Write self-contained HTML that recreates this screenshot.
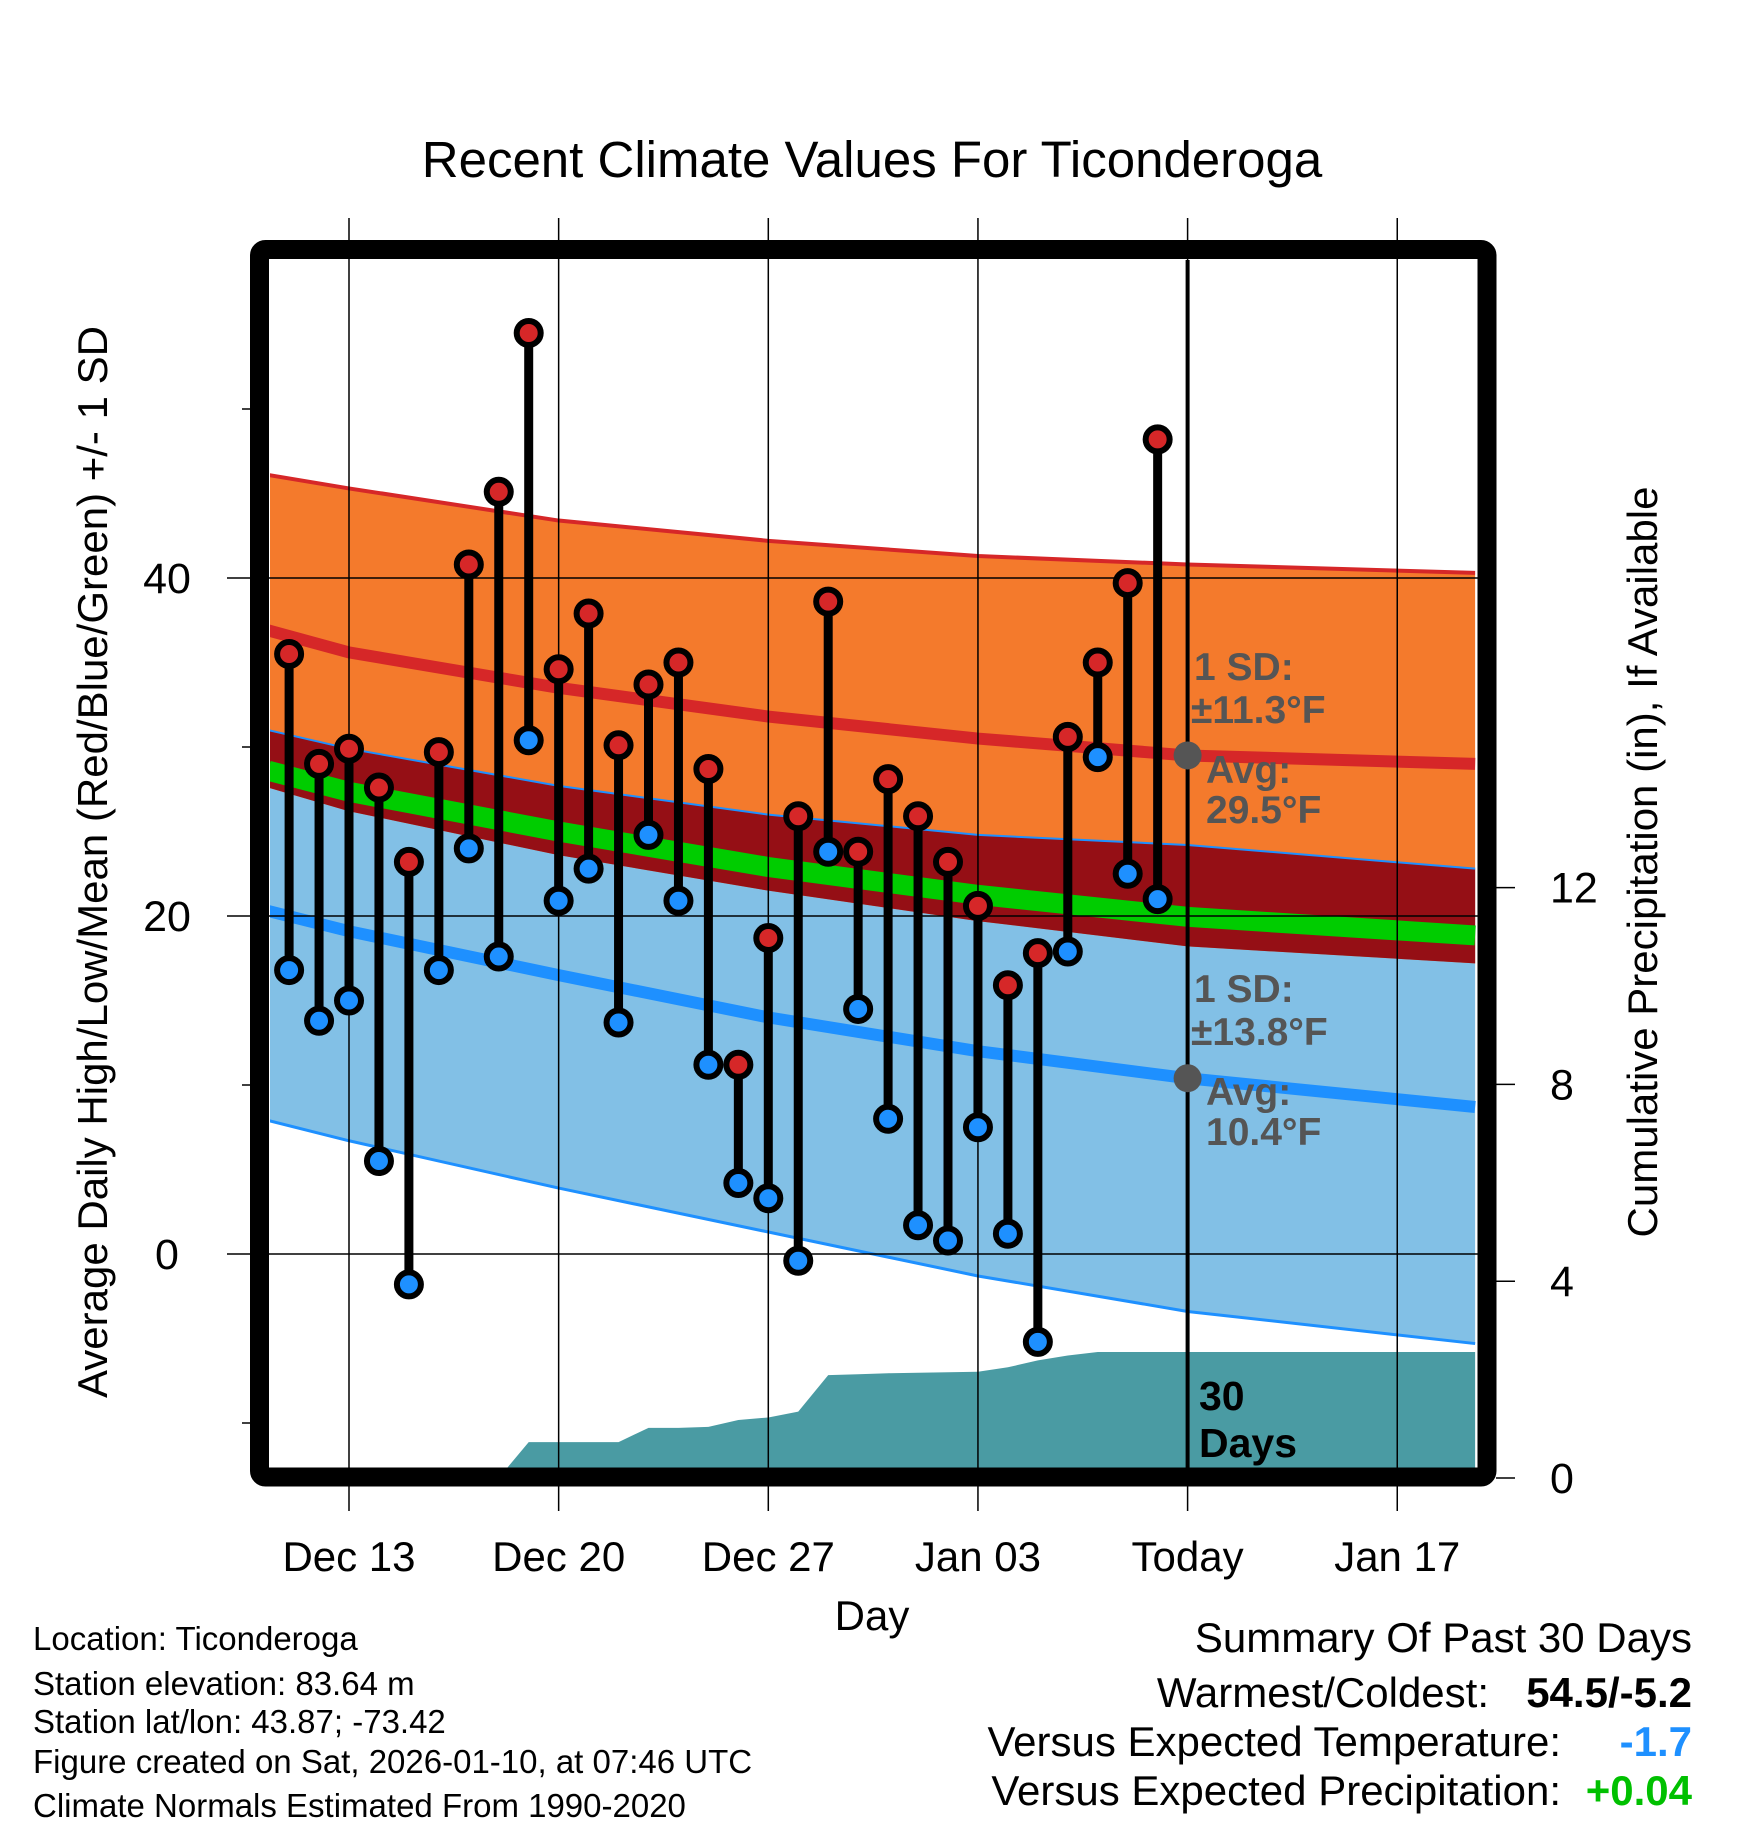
<!DOCTYPE html>
<html><head><meta charset="utf-8"><style>
html,body{margin:0;padding:0;background:#fff;}
svg{display:block;font-family:"Liberation Sans",sans-serif;}
</style></head><body>
<svg id="chart" width="1748" height="1828" viewBox="0 0 1748 1828" xmlns="http://www.w3.org/2000/svg">
<defs><clipPath id="plotclip"><rect x="270" y="260" width="1208" height="1208"/></clipPath></defs>
<text x="872" y="177" font-size="51" text-anchor="middle">Recent Climate Values For Ticonderoga</text>
<g id="plot" clip-path="url(#plotclip)"></g>
<g id="overlay"></g>
<text transform="translate(107,862) rotate(-90)" font-size="42" text-anchor="middle">Average Daily High/Low/Mean (Red/Blue/Green) +/- 1 SD</text>
<text transform="translate(1657,862) rotate(-90)" font-size="42" text-anchor="middle">Cumulative Precipitation (in), If Available</text>
<text x="872" y="1630" font-size="42" text-anchor="middle">Day</text>
<g font-size="33">
<text x="33" y="1650">Location: Ticonderoga</text>
<text x="33" y="1695">Station elevation: 83.64 m</text>
<text x="33" y="1733">Station lat/lon: 43.87; -73.42</text>
<text x="33" y="1773">Figure created on Sat, 2026-01-10, at 07:46 UTC</text>
<text x="33" y="1817">Climate Normals Estimated From 1990-2020</text>
</g>
<g font-size="42" text-anchor="end">
<text x="1692" y="1652">Summary Of Past 30 Days</text>
<text x="1489" y="1707">Warmest/Coldest:</text>
<text x="1692" y="1707" font-weight="bold">54.5/-5.2</text>
<text x="1561" y="1756">Versus Expected Temperature:</text>
<text x="1692" y="1756" font-weight="bold" fill="#1e90ff">-1.7</text>
<text x="1561" y="1805">Versus Expected Precipitation:</text>
<text x="1692" y="1805" font-weight="bold" fill="#00c000">+0.04</text>
</g>
</svg>
<script>
const days = [-2,-1,0,1,2,3,4,5,6,7,8,9,10,11,12,13,14,15,16,17,18,19,20,21,22,23,24,25,26,27];
const highs = [35.5,29.0,29.9,27.6,23.2,29.7,40.8,45.1,54.5,34.6,37.9,30.1,33.7,35.0,28.7,11.2,18.7,25.9,38.6,23.8,28.1,25.9,23.2,20.6,15.9,17.8,30.6,35.0,39.7,48.2];
const lows = [16.8,13.8,15.0,5.5,-1.8,16.8,24.0,17.6,30.4,20.9,22.8,13.7,24.8,20.9,11.2,4.2,3.3,-0.4,23.8,14.5,8.0,1.7,0.8,7.5,1.2,-5.2,17.9,29.4,22.5,21.0];
const precip = [0,0,0,0,0,0,0,0,0.73,0.73,0.73,0.73,1.02,1.02,1.04,1.18,1.23,1.35,2.09,2.11,2.13,2.14,2.15,2.16,2.25,2.39,2.49,2.56,2.56,2.56];
const normDays = [-2.7,0,7,14,21,28,37.6];
const highTop = [46.1,45.3,43.4,42.2,41.3,40.8,40.3];
const highMean = [36.9,35.6,33.5,31.8,30.5,29.5,29.0];
const highBot = [27.6,26.2,23.6,21.5,19.7,18.2,17.2];
const lowTop = [31.0,29.9,27.7,26.0,24.8,24.2,22.8];
const lowMean = [20.3,19.1,16.5,14.0,12.0,10.4,8.7];
const lowBot = [7.9,6.7,3.9,1.3,-1.3,-3.4,-5.3];
const avgMean = [28.6,27.35,25.0,22.9,21.25,19.95,18.85];
const xTickDays = [0,7,14,21,28,35];
const xTickLabels = ["Dec 13","Dec 20","Dec 27","Jan 03","Today","Jan 17"];
const yTicks = [0,20,40];
const yMinor = [-10,10,30,50];
const pTicks = [0,4,8,12];

const NS="http://www.w3.org/2000/svg";
const X = d => 349 + 29.95*d;
const Y = t => 1254 - 16.9*t;
const YP = p => 1478 - 49.2*p;
const plot=document.getElementById('plot'), ov=document.getElementById('overlay');
function mk(tag, attrs, parent){const e=document.createElementNS(NS,tag);for(const k in attrs)e.setAttribute(k,attrs[k]);parent.appendChild(e);return e;}
function bandPath(top,bot){let s='';normDays.forEach((d,i)=>{s+=(i?'L':'M')+X(d)+','+Y(top[i]);});for(let i=normDays.length-1;i>=0;i--)s+='L'+X(normDays[i])+','+Y(bot[i]);return s+'Z';}
function linePath(arr){return normDays.map((d,i)=>(i?'L':'M')+X(d)+','+Y(arr[i])).join('');}

let e;
e=mk('path',{d:bandPath(lowTop,lowBot),fill:'#82c0e6'},plot);


e=mk('path',{d:bandPath(highTop,highBot),fill:'#f47a2c'},plot);


e=mk('path',{d:bandPath(lowTop,highBot),fill:'#950f15'},plot);


e=mk('path',{d:linePath(highTop),fill:'none',stroke:'#d62728','stroke-width':4},plot);


e=mk('path',{d:linePath(lowTop),fill:'none',stroke:'#1e90ff','stroke-width':2},plot);


e=mk('path',{d:linePath(lowBot),fill:'none',stroke:'#1e90ff','stroke-width':3},plot);


e=mk('path',{d:linePath(avgMean),fill:'none',stroke:'#00cc00','stroke-width':20},plot);


e=mk('path',{d:linePath(highMean),fill:'none',stroke:'#d62728','stroke-width':12},plot);


e=mk('path',{d:linePath(lowMean),fill:'none',stroke:'#1e90ff','stroke-width':12},plot);



let ps='M'+X(days[0])+','+YP(0);
days.forEach((d,i)=>{ps+='L'+X(d)+','+YP(precip[i]);});
ps+='L'+X(37.6)+','+YP(precip[precip.length-1])+'L'+X(37.6)+','+YP(0)+'Z';
e=mk('path',{d:ps,fill:'#4a9ba3'},plot);



xTickDays.forEach((d,i)=>{
  e=mk('line',{x1:X(d),x2:X(d),y1:218,y2:1511,stroke:'#000','stroke-width':1.5},ov);
  
  
  e=mk('text',{x:X(d),y:1571,'font-size':42,'text-anchor':'middle'},ov);
  e.textContent=xTickLabels[i];
  
  
});
yTicks.forEach(t=>{
  e=mk('line',{x1:227,x2:1478,y1:Y(t),y2:Y(t),stroke:'#000','stroke-width':1.5},ov);
  
  
  e=mk('text',{x:167,y:Y(t)+15,'font-size':43,'text-anchor':'middle'},ov);
  e.textContent=t;
  
  
});
yMinor.forEach(t=>{
  e=mk('line',{x1:242,x2:252,y1:Y(t),y2:Y(t),stroke:'#000','stroke-width':1.5},ov);
  
  
});
pTicks.forEach(p=>{
  e=mk('line',{x1:1496,x2:1515,y1:YP(p),y2:YP(p),stroke:'#000','stroke-width':1.5},ov);
  
  
  e=mk('text',{x:1550,y:YP(p)+15,'font-size':43},ov);
  e.textContent=p;
  
  
});

e=mk('line',{x1:X(28),x2:X(28),y1:260,y2:1468,stroke:'#000','stroke-width':4},ov);



days.forEach((d,i)=>{
  e=mk('line',{x1:X(d),x2:X(d),y1:Y(highs[i]),y2:Y(lows[i]),stroke:'#000','stroke-width':9},ov);
  
  
});
days.forEach((d,i)=>{
  e=mk('circle',{cx:X(d),cy:Y(highs[i]),r:12,fill:'#d62728',stroke:'#000','stroke-width':6},ov);
  
  
  e=mk('circle',{cx:X(d),cy:Y(lows[i]),r:12,fill:'#1e90ff',stroke:'#000','stroke-width':6},ov);
  
  
});

[[29.5,'today-high-normal-dot'],[10.4,'today-low-normal-dot']].forEach(a=>{
  e=mk('circle',{cx:X(28),cy:Y(a[0]),r:14,fill:'#555'},ov);
  
  
});

const ann=[["1 SD:",1194,680],["\u00b111.3\u00b0F",1191,723],["Avg:",1206,783],["29.5\u00b0F",1206,823],
           ["1 SD:",1194,1002],["\u00b113.8\u00b0F",1191,1045],["Avg:",1206,1105],["10.4\u00b0F",1206,1145]];
ann.forEach(a=>{
  e=mk('text',{x:a[1],y:a[2],'font-size':39,'font-weight':'bold',fill:'#555'},ov);
  e.textContent=a[0];
  
  
});
[["30",1199,1410],["Days",1199,1457]].forEach(a=>{
  e=mk('text',{x:a[1],y:a[2],'font-size':41,'font-weight':'bold',fill:'#000'},ov);
  e.textContent=a[0];
  
  
});

e=mk('rect',{x:259.5,y:249.5,width:1227.5,height:1227.5,rx:6,fill:'none',stroke:'#000','stroke-width':19},ov);


</script>
</body></html>
